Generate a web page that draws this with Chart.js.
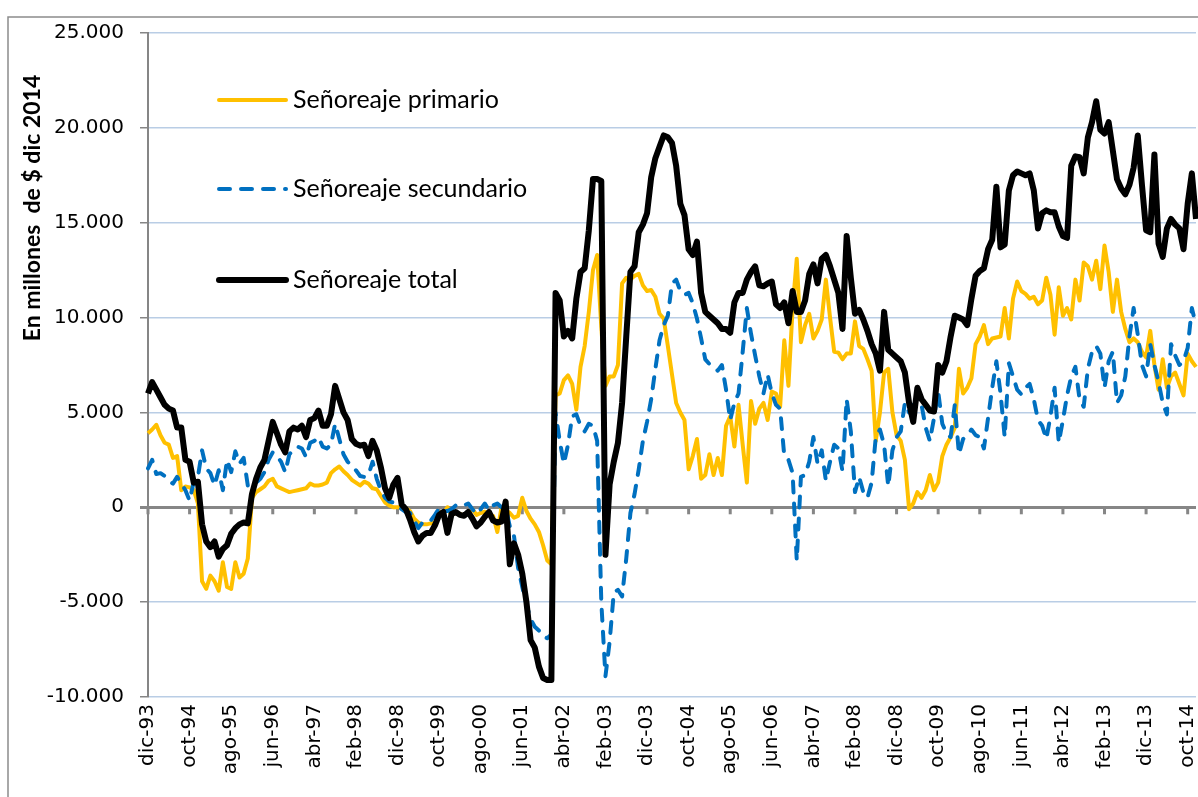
<!DOCTYPE html>
<html>
<head>
<meta charset="utf-8">
<script src="https://cdn.jsdelivr.net/npm/chart.js@4.4.1/dist/chart.umd.min.js"></script>
<style>
  html, body { margin: 0; padding: 0; background: #fff; }
  #wrap { width: 1198px; height: 797px; }
</style>
</head>
<body>
<div id="wrap"><canvas id="chart" width="1198" height="797"></canvas></div>
<script>
// Señoreaje mensual, dic-93 a dic-14 (millones de $ de dic 2014)
const meses = ['ene', 'feb', 'mar', 'abr', 'may', 'jun', 'jul', 'ago', 'sep', 'oct', 'nov', 'dic'];
const categorias = [];
for (let k = 0; k < 253; k++) {
    const m = 11 + k;
    const anio = (93 + Math.floor(m / 12)) % 100;
    categorias.push(meses[m % 12] + '-' + String(anio).padStart(2, '0'));
}

const yTicks = [-10000, -5000, 0, 5000, 10000, 15000, 20000, 25000];

const primario = [
    3900, 4100, 4350, 3800, 3400, 3300, 2600, 2700, 900, 1100,
    1050, 900, 200, -3900, -4300, -3600, -3900, -4400, -2900, -4200,
    -4300, -2900, -3700, -3500, -2700, 500, 800, 950, 1100, 1400,
    1500, 1100, 1000, 900, 800, 850, 900, 950, 1000, 1250,
    1150, 1150, 1200, 1300, 1800, 2000, 2150, 1900, 1700, 1450,
    1300, 1150, 1350, 1250, 1000, 950, 600, 250, 100, 0,
    0, 0, -50, -200, -600, -800, -900, -900, -850, -800,
    -250, -350, 0, -450, -250, -350, -450, -300, -100, -400,
    -300, -230, -350, -460, -1300, 0, -150, -300, -550, -450,
    500, -200, -600, -900, -1300, -2000, -2800, -3000, 5900, 6000,
    6700, 6950, 6500, 5150, 7400, 8500, 10300, 12500, 13300, 9500,
    6400, 6900, 6900, 7500, 11800, 12100, 12000, 12200, 12300, 11700,
    11400, 11450, 11100, 10200, 9950, 8500, 7000, 5500, 5000, 4600,
    2000, 2700, 3600, 1500, 1700, 2800, 1700, 2600, 1700, 4300,
    4800, 3200, 5400, 3300, 1300, 5600, 4400, 5200, 5500, 4600,
    6100, 6000, 5300, 8800, 6400, 10500, 13100, 8700, 9600, 10200,
    8900, 9300, 9900, 12000, 10000, 8200, 8150, 7800, 8100, 8100,
    9800, 8500, 8350, 7800, 7200, 3500, 5000, 7100, 7300, 5000,
    3800, 3500, 2500, -100, 200, 800, 500, 900, 1700, 900,
    1300, 2700, 3300, 3700, 4200, 7300, 6000, 6300, 6800, 8600,
    9000, 9600, 8600, 8900, 8950, 9000, 10500, 8900, 11000, 11900,
    11400, 11250, 11000, 11100, 10700, 10900, 12100, 11200, 9100, 11600,
    10100, 10500, 9900, 12000, 10900, 12900, 12700, 12000, 13000, 11500,
    13800, 12400, 10300, 12000, 10300, 9400, 8700, 8900, 8700, 8200,
    7900, 9300, 7500, 6200, 7800, 6300, 6900, 7100, 6500, 5900,
    8100, 7700, 7400
];

const secundario = [
    2050, 2500, 1750, 1800, 1650, 1400, 1250, 1600, 1250, 900,
    350, 1350, 1600, 3000, 2050, 1800, 1150, 1950, 900, 2500,
    1850, 2950, 2300, 2600, 1150, 1150, 1300, 1500, 1850, 2500,
    2900, 2700, 2400, 1850, 2800, 3000, 3200, 3100, 2650, 3400,
    3500, 3700, 3200, 3100, 3300, 4400, 3600, 2800, 2400, 2200,
    1950, 1650, 1600, 1700, 2400, 1500, 900, 500, 300, 250,
    100, -100, -250, -300, -700, -1100, -800, -700, -700, -400,
    -50, -200, -200, -100, 100, 50, 100, 200, -100, -350,
    -100, 200, -150, 100, 200, 0, 0, -1000, -1500, -3200,
    -4200, -5100, -5900, -6300, -6500, -6800, -6900, -6700, 5000, 3500,
    2300, 3300, 4800, 4900, 4300, 4000, 4400, 4300, 3500, -5000,
    -8900, -7100, -4500, -4350, -4700, -2700, -300, 700, 2000, 3500,
    4500, 5700, 7300, 8800, 9600, 10100, 11800, 12000, 11400, 11200,
    11300, 10750, 9950, 8900, 7800, 7550, 7400, 7200, 7500, 6200,
    4600, 5500, 6000, 8200, 10500, 9150, 8000, 6900, 6000, 7000,
    6000, 5400, 5200, 2700, 2500, 1800, -2800, 1600, 1700, 2400,
    3700, 2300, 3000, 1400, 2400, 3300, 3100, 1900, 5700, 4000,
    800, 1600, 800, 500, 1300, 3700, 4100, 3300, 1100, 3000,
    3700, 4000, 5500, 5000, 5400, 5300, 5400, 4200, 3500, 4700,
    6100, 4400, 3900, 3700, 5400, 2800, 3600, 3800, 4100, 3800,
    3700, 3100, 4700, 6300, 7700, 6000, 3700, 7600, 6900, 6200,
    5950, 6300, 6500, 5700, 4600, 4300, 3600, 4800, 6300, 3400,
    4600, 5900, 6900, 7400, 5700, 5300, 7300, 8200, 8500, 8100,
    6300, 7700, 8200, 5500, 5900, 6900, 9000, 10500, 9100, 7500,
    6900, 8600, 7500, 6600, 5500, 4900, 8600, 8000, 7500, 7700,
    8400, 10500, 9600
];

const total = [
    6000, 6600, 6200, 5800, 5400, 5200, 5100, 4200, 4200, 2500,
    2400, 1300, 1350, -900, -1800, -2100, -1800, -2600, -2200, -2000,
    -1400, -1100, -900, -800, -850, 700, 1500, 2100, 2500, 3500,
    4500, 3900, 3300, 2900, 4000, 4200, 4100, 4300, 3700, 4600,
    4700, 5100, 4300, 4300, 4900, 6400, 5700, 5000, 4600, 3600,
    3350, 3250, 3300, 2700, 3500, 3000, 2100, 1000, 500, 1200,
    1550, 150, -100, -650, -1300, -1800, -1500, -1350, -1350, -950,
    -400, -250, -1350, -350, -250, -400, -450, -250, -600, -1000,
    -800, -500, -250, -700, -800, -750, 300, -3000, -1900, -2500,
    -3500, -5000, -7000, -7400, -8400, -9000, -9100, -9100, 11300, 10900,
    9000, 9300, 8900, 11000, 12400, 12600, 14600, 17300, 17300, 17200,
    -2500, 1200, 2400, 3400, 5500, 9000, 12400, 12700, 14500, 14900,
    15500, 17400, 18400, 19000, 19600, 19500, 19200, 18000, 16000, 15400,
    13600, 13300, 14000, 11300, 10300, 10100, 9900, 9700, 9400, 9400,
    9200, 10800, 11300, 11300, 12000, 12400, 12700, 11700, 11650, 11800,
    11900, 10700, 10500, 10800, 9700, 11400, 10300, 10300, 10900, 12300,
    12800, 11800, 13100, 13300, 12700, 12000, 11300, 9400, 14300, 12100,
    10200, 10400, 9900, 9300, 8600, 8100, 7200, 10300, 8300, 8100,
    7900, 7700, 7100, 5500, 4500, 6300, 5700, 5400, 5100, 5050,
    7500, 7100, 7700, 9000, 10100, 10000, 9900, 9600, 11000, 12200,
    12450, 12600, 13600, 14100, 16900, 13700, 13850, 16700, 17500, 17700,
    17600, 17500, 17600, 16700, 14700, 15500, 15650, 15550, 15550, 14800,
    14300, 14200, 18000, 18500, 18450, 17600, 19500, 20300, 21400, 19900,
    19700, 20300, 18800, 17300, 16800, 16500, 17000, 17900, 19600, 17000,
    14600, 14500, 18600, 13900, 13200, 14700, 15200, 14900, 14700, 13600,
    16000, 17600, 15200
];

const AZUL_GRILLA = '#b9cde5';
const GRIS_EJE = '#868686';

function miles(v) {
    const s = String(Math.abs(v)).replace(/\B(?=(\d{3})+(?!\d))/g, '.');
    return (v < 0 ? '-' : '') + s;
}

// borde del area del grafico (estilo Excel) y marcas del eje X sobre la linea 0
const marcoPlugin = {
    id: 'marco',
    beforeDraw(chart) {
        const ctx = chart.ctx;
        ctx.save();
        ctx.strokeStyle = '#8c8c8c';
        ctx.lineWidth = 1.5;
        ctx.beginPath();
        ctx.moveTo(8, 797);
        ctx.lineTo(8, 17);
        ctx.lineTo(1198, 17);
        ctx.stroke();
        ctx.restore();
    },
    beforeDatasetsDraw(chart) {
        const ctx = chart.ctx;
        const x = chart.scales.x;
        const y0 = chart.scales.y.getPixelForValue(0);
        ctx.save();
        ctx.fillStyle = GRIS_EJE;
        for (let i = 0; i < categorias.length; i += 10) {
            const px = x.getPixelForValue(i);
            ctx.fillRect(px - 1.5, y0, 3, 7);
        }
        ctx.restore();
    }
};

// leyenda dentro del area de trazado y titulo del eje Y
const leyendaPlugin = {
    id: 'leyendaInterna',
    afterDraw(chart) {
        const ctx = chart.ctx;
        const filas = [100, 189, 280];
        ctx.save();
        chart.data.datasets.forEach((ds, i) => {
            const y = filas[i];
            ctx.beginPath();
            ctx.strokeStyle = ds.borderColor;
            ctx.lineWidth = ds.borderWidth;
            ctx.lineCap = 'round';
            ctx.setLineDash(ds.borderDash || []);
            ctx.moveTo(219, y);
            ctx.lineTo(286, y);
            ctx.stroke();
            ctx.setLineDash([]);
            ctx.fillStyle = '#000';
            ctx.font = '25px Lato';
            ctx.textAlign = 'left';
            ctx.textBaseline = 'middle';
            ctx.fillText(ds.label, 293, y);
        });

        ctx.translate(33, 208);
        ctx.rotate(-Math.PI / 2);
        ctx.font = 'bold 23px Lato';
        ctx.textAlign = 'center';
        ctx.textBaseline = 'middle';
        ctx.fillStyle = '#000';
        ctx.fillText('En millones  de $ dic 2014', 0, 0);
        ctx.restore();
    }
};

new Chart(document.getElementById('chart'), {
    type: 'line',
    data: {
        labels: categorias,
        datasets: [
            {
                label: 'Señoreaje primario',
                data: primario,
                borderColor: '#ffc000',
                borderWidth: 4,
                order: 2
            },
            {
                label: 'Señoreaje secundario',
                data: secundario,
                borderColor: '#0070c0',
                borderWidth: 4,
                borderDash: [11, 11],
                borderCapStyle: 'round',
                order: 1
            },
            {
                label: 'Señoreaje total',
                data: total,
                borderColor: '#000000',
                borderWidth: 6,
                order: 0
            }
        ]
    },
    options: {
        responsive: false,
        animation: false,
        layout: { padding: { left: 0, top: 33, right: 2, bottom: 0 } },
        elements: {
            point: { radius: 0 },
            line: { tension: 0, borderJoinStyle: 'round', fill: false }
        },
        plugins: {
            legend: { display: false },
            tooltip: { enabled: false }
        },
        scales: {
            x: {
                type: 'category',
                afterFit(scale) {
                    scale.height = 100;
                    scale.paddingLeft = 0;
                    scale.paddingRight = 0;
                },
                grid: { display: false, drawTicks: false },
                border: { display: false },
                ticks: {
                    autoSkip: false,
                    minRotation: 90,
                    maxRotation: 90,
                    padding: 7,
                    color: '#000',
                    font: { family: 'DejaVu Sans', size: 20 },
                    callback: (v, i) => (i % 10 === 0 ? categorias[i] : '')
                }
            },
            y: {
                min: yTicks[0],
                max: yTicks[yTicks.length - 1],
                afterFit(scale) { scale.width = 148; },
                afterBuildTicks(scale) { scale.ticks = yTicks.map(v => ({ value: v })); },
                grid: {
                    color: c => (c.tick && c.tick.value === 0 ? GRIS_EJE : AZUL_GRILLA),
                    lineWidth: c => (c.tick && c.tick.value === 0 ? 3 : 1.5),
                    tickColor: GRIS_EJE,
                    tickLength: 8
                },
                border: { color: GRIS_EJE, width: 2 },
                ticks: {
                    padding: 16,
                    color: '#000',
                    font: { family: 'DejaVu Sans', size: 20 },
                    callback: v => miles(v)
                }
            }
        }
    },
    plugins: [marcoPlugin, leyendaPlugin]
});
</script>
</body>
</html>
